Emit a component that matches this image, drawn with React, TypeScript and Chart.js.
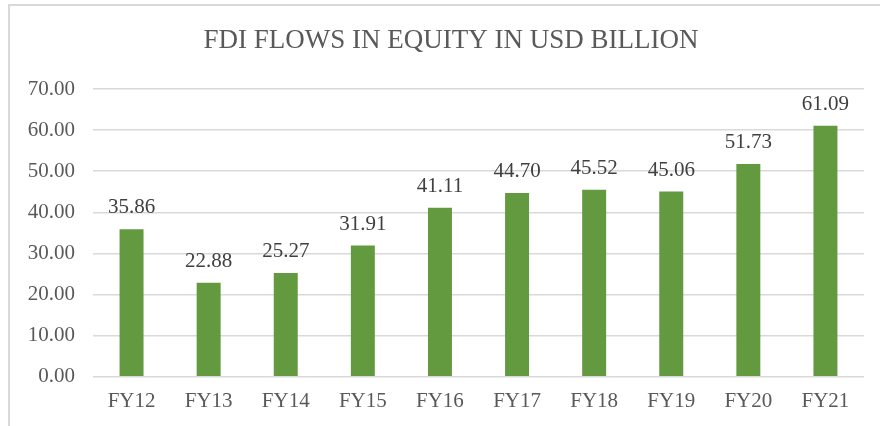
import React, { useEffect, useRef } from "react";
import { Chart, registerables } from "chart.js";

Chart.register(...registerables);

const categories = ["FY12", "FY13", "FY14", "FY15", "FY16", "FY17", "FY18", "FY19", "FY20", "FY21"];
const fdiEquity = [35.86, 22.88, 25.27, 31.91, 41.11, 44.7, 45.52, 45.06, 51.73, 61.09];
const titleText = "FDI FLOWS IN EQUITY IN USD BILLION";

const FONT = "'Liberation Serif', 'Times New Roman', serif";

const dataLabels = {
  id: "dataLabels",
  afterDatasetsDraw(chart: any) {
    const ctx = chart.ctx;
    const meta = chart.getDatasetMeta(0);
    ctx.save();
    ctx.font = `21px ${FONT}`;
    ctx.fillStyle = "#404040";
    ctx.textAlign = "center";
    ctx.textBaseline = "alphabetic";
    meta.data.forEach((bar: any, i: number) => {
      const v = chart.data.datasets[0].data[i] as number;
      ctx.fillText(v.toFixed(2), bar.x, bar.y - 16);
    });
    ctx.restore();
  },
};

const titlePlugin = {
  id: "customTitle",
  afterDraw(chart: any) {
    const ctx = chart.ctx;
    ctx.save();
    ctx.font = `27px ${FONT}`;
    ctx.fillStyle = "#595959";
    ctx.textAlign = "center";
    ctx.textBaseline = "alphabetic";
    ctx.fillText(titleText, 451, 48);
    ctx.restore();
  },
};

export default function App() {
  const ref = useRef<HTMLCanvasElement>(null);
  useEffect(() => {
    if (!ref.current) return;
    const chart = new Chart(ref.current, {
      type: "bar",
      data: {
        labels: categories,
        datasets: [
          {
            data: fdiEquity,
            backgroundColor: "#639A3F",
            barPercentage: 0.311,
            categoryPercentage: 1,
          },
        ],
      },
      options: {
        responsive: false,
        animation: false,
        layout: { padding: { left: 0, right: 16, top: 89, bottom: 0 } },
        plugins: {
          legend: { display: false },
          tooltip: { enabled: false },
          title: { display: false },
        },
        scales: {
          x: {
            grid: { display: false, drawTicks: false },
            border: { display: false },
            ticks: {
              color: "#595959",
              font: { family: FONT, size: 21 },
              padding: 12,
            },
          },
          y: {
            min: 0,
            max: 70,
            afterFit(scale: any) {
              scale.width = 93;
            },
            grid: { color: "#D9D9D9", lineWidth: 1.5, drawTicks: false },
            border: { display: false },
            ticks: {
              stepSize: 10,
              color: "#595959",
              font: { family: FONT, size: 21 },
              padding: 18,
              callback: (v: any) => Number(v).toFixed(2),
            },
          },
        },
      },
      plugins: [dataLabels, titlePlugin],
    });
    return () => chart.destroy();
  }, []);

  return (
    <div style={{ position: "fixed", left: 0, top: 0, width: 880, height: 426, background: "#fff" }}>
      <canvas ref={ref} width={880} height={426} style={{ display: "block" }} />
      <div
        style={{
          position: "absolute",
          left: 8,
          top: 4,
          right: 0,
          bottom: 0,
          borderLeft: "2px solid #D9D9D9",
          borderTop: "2px solid #D9D9D9",
          pointerEvents: "none",
        }}
      />
    </div>
  );
}
